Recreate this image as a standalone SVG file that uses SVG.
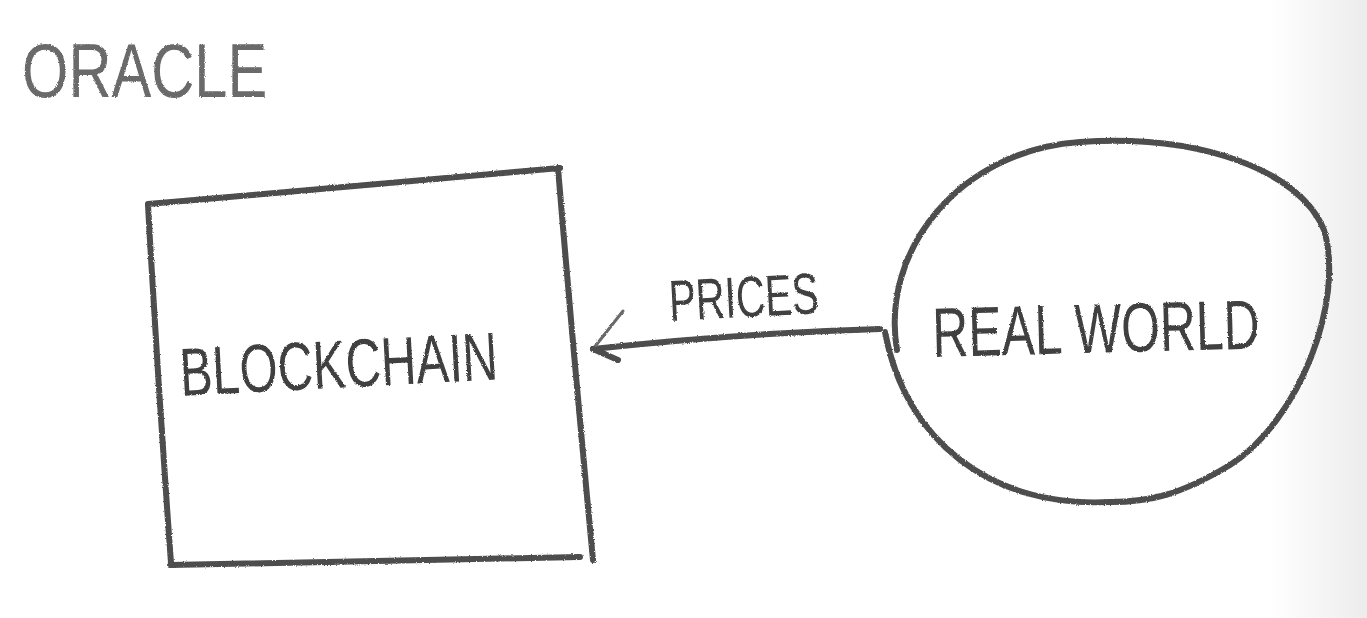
<svg xmlns="http://www.w3.org/2000/svg" width="1367" height="618" viewBox="0 0 1367 618">
  <defs>
    <linearGradient id="edge" x1="0" y1="0" x2="1" y2="0">
      <stop offset="0" stop-color="#ffffff"/>
      <stop offset="1" stop-color="#ececec"/>
    </linearGradient>
    <filter id="pencil" filterUnits="userSpaceOnUse" x="0" y="0" width="1367" height="618">
      <feTurbulence type="fractalNoise" baseFrequency="0.9" numOctaves="2" seed="3" result="n"/>
      <feDisplacementMap in="SourceGraphic" in2="n" scale="2.5" xChannelSelector="R" yChannelSelector="G"/>
    </filter>
  </defs>
  <style>
    .stroke { fill: none; stroke: #4d4d4d; stroke-width: 6; stroke-linecap: round; stroke-linejoin: round; }
    .thin { fill: none; stroke: #6a6a6a; stroke-width: 3; stroke-linecap: round; }
    .label { font-family: "Liberation Sans", "DejaVu Sans", sans-serif; fill: #3f3f3f; }
  </style>
  <rect x="0" y="0" width="1367" height="618" fill="#ffffff"/>
  <rect x="1270" y="0" width="97" height="618" fill="url(#edge)"/>

  <g id="title" filter="url(#pencil)">
    <text class="label" x="0" y="0" font-size="76" transform="translate(22 97) scale(0.785 1)" style="fill:#6a6a6a">ORACLE</text>
  </g>

  <g id="blockchain" filter="url(#pencil)">
    <path class="stroke" d="M148,204 L560,168 M558,168 Q574,360 593,560 M148,205 Q158,385 171,563 M170,565 Q380,560 580,557"/>
    <text class="label" x="0" y="0" font-size="68" transform="translate(181 396) rotate(-3) scale(0.72 1)">BLOCKCHAIN</text>
  </g>

  <g id="realworld" filter="url(#pencil)">
    <path class="stroke" d="M897,350 C880,250 960,150 1080,142 C1200,134 1300,170 1324,230 C1345,300 1300,420 1230,465 C1180,495 1150,502 1110,502 C990,508 905,440 885,332"/>
    <text class="label" x="0" y="0" font-size="70" transform="translate(933 357) rotate(-1.5) scale(0.711 1)">REAL WORLD</text>
  </g>

  <g id="connectors" filter="url(#pencil)">
    <path class="stroke" d="M880,329 Q740,333 593,349"/>
    <path class="thin" d="M623,311 L593,349"/>
    <path class="stroke" d="M593,349 L618,360"/>
    <text class="label" x="0" y="0" font-size="58" transform="translate(670 321) rotate(-3) scale(0.694 1)">PRICES</text>
  </g>
</svg>
